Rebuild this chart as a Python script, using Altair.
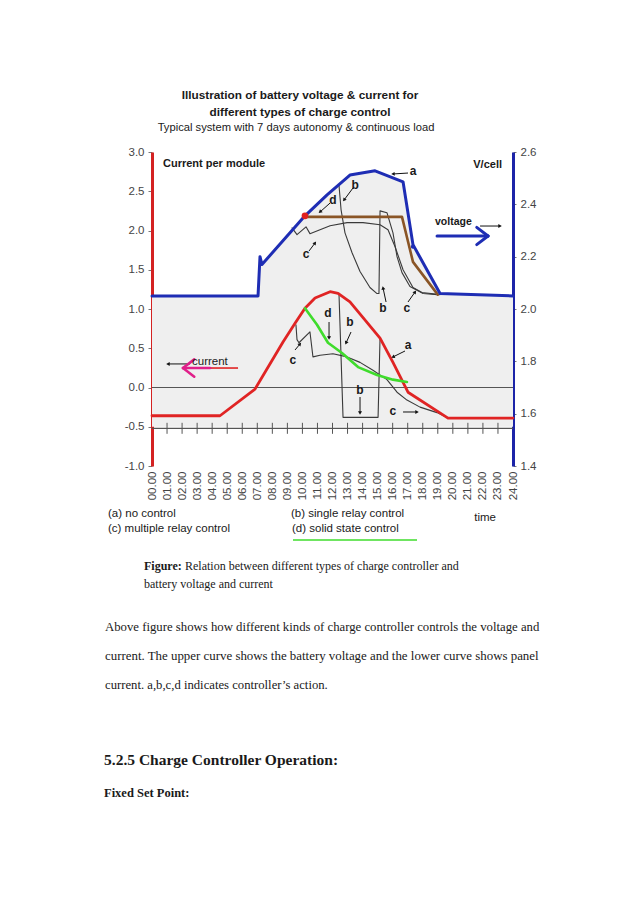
import math
import altair as alt
import pandas as pd

SANS = "Liberation Sans"
SERIF = "Liberation Serif"

# ---------------- data ----------------
hours = list(range(25))
hour_ticks = list(range(1, 24))
i_ticks = [-1.0, -0.5, 0.0, 0.5, 1.0, 1.5, 2.0, 2.5, 3.0]
v_ticks = [1.4, 1.6, 1.8, 2.0, 2.2, 2.4, 2.6]

# battery voltage (V/cell)
va_t = [0, 7.05, 7.18, 7.31, 10.17, 11.64, 13.16, 14.83, 16.69, 17.35, 19.15, 24]
va_v = [2.05, 2.05, 2.20, 2.17, 2.356, 2.436, 2.512, 2.528, 2.486, 2.246, 2.059, 2.05]
vd_t = [10.17, 16.62, 17.35, 19.0]
vd_v = [2.352, 2.352, 2.18, 2.055]
vc_t = [9.31, 9.64, 10.24, 10.5, 11.84, 12.97, 14.03, 15.16, 15.69, 16.16, 16.69, 17.35, 17.95, 19.15]
vc_v = [2.31, 2.284, 2.314, 2.288, 2.318, 2.33, 2.33, 2.322, 2.303, 2.238, 2.15, 2.082, 2.063, 2.055]
vb_t = [12.43, 12.57, 12.83, 13.30, 13.83, 14.49, 14.96, 15.09, 15.16, 15.62, 16.02, 16.29, 16.62, 17.15, 18.02, 18.95]
vb_v = [2.474, 2.379, 2.291, 2.215, 2.143, 2.082, 2.059, 2.059, 2.375, 2.368, 2.291, 2.2, 2.139, 2.086, 2.059, 2.055]
shade_floor_v = 1.55
red_dot = (10.17, 2.356)
blue_dot = (17.35, 2.238)

# current per module (A)
ia_t = [0, 4.52, 6.85, 8.71, 9.51, 10.17, 10.84, 11.84, 12.37, 13.16, 14.03, 15.16, 16.02, 17.02, 19.68, 24]
ia_i = [-0.36, -0.36, -0.02, 0.58, 0.82, 1.01, 1.14, 1.22, 1.20, 1.09, 0.89, 0.63, 0.32, -0.06, -0.39, -0.39]
id_t = [10.17, 10.97, 11.70, 12.63, 13.70, 14.96, 16.02, 16.95]
id_i = [1.01, 0.80, 0.57, 0.44, 0.26, 0.16, 0.10, 0.07]
ic_t = [9.57, 9.64, 9.77, 10.5, 10.7, 11.17, 12.03, 12.97, 13.83, 14.69, 15.62, 16.29, 16.95, 17.82, 18.95, 19.68]
ic_i = [0.80, 0.61, 0.57, 0.71, 0.39, 0.41, 0.43, 0.39, 0.32, 0.22, 0.10, -0.06, -0.16, -0.25, -0.32, -0.39]
ib_t = [12.43, 12.70, 15.03, 15.16]
ib_i = [1.20, -0.38, -0.38, 0.63]
zero_level = 0.0
tick_level = -0.52

# letter annotations (hour, position on current scale)
ann_text = ["a", "b", "d", "c", "b", "c", "d", "b", "a", "b", "c", "c"]
ann_t = [17.35, 13.50, 12.03, 10.24, 15.36, 16.95, 11.70, 13.16, 17.02, 13.83, 16.02, 9.37]
ann_y = [2.758, 2.580, 2.389, 1.701, 1.013, 1.013, 0.949, 0.834, 0.541, -0.032, -0.299, 0.350]
arr_t0 = [17.02, 13.36, 11.84, 10.44, 15.56, 17.02, 11.77, 13.23, 16.82, 13.83, 16.69, 9.51, 2.53, 21.81]
arr_y0 = [2.732, 2.541, 2.350, 1.739, 1.089, 1.089, 0.834, 0.707, 0.465, -0.121, -0.312, 0.478, 0.30, 2.057]
arr_t1 = [16.02, 12.77, 11.17, 10.84, 15.36, 17.49, 11.77, 12.90, 16.02, 13.83, 17.62, 9.84, 1.06, 23.14]
arr_y1 = [2.720, 2.389, 2.236, 1.841, 1.268, 1.217, 0.631, 0.567, 0.389, -0.325, -0.312, 0.554, 0.30, 2.057]

# big direction arrows: blue (voltage ->) and magenta (<- current)
blue_arrow_t = [18.95, 22.34]
blue_arrow_y = [1.93, 1.93]
mag_arrow_t = [3.86, 2.06]
mag_arrow_y = [0.248, 0.248]
red_stub_t = [3.86, 5.72]

# ---------------- layout ----------------
W, H = 361, 314
X0, Y0 = 152, 152  # page position of plot origin
PXH = W / 24.0
PXI = H / 4.0

xscale = alt.Scale(domain=[0, 24], nice=False, zero=False)
iscale = alt.Scale(domain=[-1, 3], nice=False, zero=False)
vscale = alt.Scale(domain=[1.4, 2.6], nice=False, zero=False)

fmt1 = "(datum.value < 0 ? '-' : '') + format(abs(datum.value), '.1f')"
xaxis = alt.Axis(values=hours, labelExpr="(datum.value < 10 ? '0' : '') + datum.value + '.00'",
                 labelAngle=270, labelPadding=5, labelFontSize=11.5, labelColor="#444",
                 labelFont=SANS, domain=False, ticks=False, grid=False, title=None,
                 labelOverlap=False, labelFlush=False, labelBound=False)
iaxis = alt.Axis(values=i_ticks, labelExpr=fmt1, domainColor="#d42222", domainWidth=3,
                 tickColor="#777", tickSize=4, labelPadding=4, labelFontSize=11.5,
                 labelColor="#444", labelFont=SANS, grid=False, title=None, labelOverlap=False)
vaxis = alt.Axis(values=v_ticks, orient="right", labelExpr=fmt1, domainColor="#1c24a8",
                 domainWidth=3, tickColor="#777", tickSize=3, labelPadding=4,
                 labelFontSize=11.5, labelColor="#444", labelFont=SANS, grid=False,
                 title=None, labelOverlap=False)


def X(f):
    return alt.X(f, type="quantitative", scale=xscale, axis=xaxis)


def YI(f):
    return alt.Y(f, type="quantitative", scale=iscale, axis=iaxis)


def YV(f):
    return alt.Y(f, type="quantitative", scale=vscale, axis=vaxis)


def line_df(ts, ys):
    return pd.DataFrame({"t": ts, "y": ys, "k": list(range(len(ts)))})


def curve(ts, ys, color, width, yenc):
    return alt.Chart(line_df(ts, ys)).mark_line(color=color, strokeWidth=width,
                                                strokeJoin="round", strokeCap="round").encode(
        x=X("t"), y=yenc("y"), order="k:Q")


ONE = alt.Data(values=[{"a": 1}])


def txt(s, px, py, size=11, weight="normal", font=SANS, align="left", color="#1a1a1a"):
    return alt.Chart(ONE).mark_text(text=s, fontSize=size, fontWeight=weight, font=font,
                                    align=align, baseline="middle", color=color).encode(
        x=alt.value(px - X0), y=alt.value(py - Y0))


# ---------- voltage layer ----------
shade = pd.DataFrame({"t": va_t, "y": va_v, "floor": [shade_floor_v] * len(va_t)})
v_area = alt.Chart(shade).mark_area(color="#efefef").encode(x=X("t"), y=YV("y"), y2="floor:Q")
v_b = curve(vb_t, vb_v, "#3a3a3a", 1.1, YV)
v_c = curve(vc_t, vc_v, "#3a3a3a", 1.1, YV)
v_d = curve(vd_t, vd_v, "#8a5526", 2.6, YV)
v_a = curve(va_t, va_v, "#1e2db4", 3.0, YV)
dots = pd.DataFrame({"t": [red_dot[0], blue_dot[0]], "y": [red_dot[1], blue_dot[1]],
                     "c": ["#e02020", "#1e2db4"], "s": [45, 18]})
v_dots = alt.Chart(dots).mark_point(filled=True, opacity=1).encode(
    x=X("t"), y=YV("y"), color=alt.Color("c:N", scale=None), size=alt.Size("s:Q", scale=None))
volt_layer = alt.layer(v_area, v_b, v_c, v_d, v_a, v_dots)

# ---------- current layer ----------
zero_df = pd.DataFrame({"t0": [0], "t1": [24], "y": [zero_level]})
zero_rule = alt.Chart(zero_df).mark_rule(color="#555", strokeWidth=1.2).encode(
    x=X("t0"), x2="t1:Q", y=YI("y"))
tl_df = pd.DataFrame({"t0": [0], "t1": [24], "y": [tick_level]})
tick_line = alt.Chart(tl_df).mark_rule(color="#555", strokeWidth=1.2).encode(
    x=X("t0"), x2="t1:Q", y=YI("y"))
tk_df = pd.DataFrame({"t": hour_ticks, "y0": [tick_level + 0.07] * len(hour_ticks),
                      "y1": [tick_level - 0.07] * len(hour_ticks)})
tick_marks = alt.Chart(tk_df).mark_rule(color="#555", strokeWidth=1).encode(
    x=X("t"), y=YI("y0"), y2="y1:Q")

i_b = curve(ib_t, ib_i, "#3a3a3a", 1.1, YI)
i_c = curve(ic_t, ic_i, "#3a3a3a", 1.1, YI)
i_a = curve(ia_t, ia_i, "#e02424", 2.8, YI)
i_d = curve(id_t, id_i, "#3fdc2c", 2.6, YI)

# annotation letters
ann_df = pd.DataFrame({"t": ann_t, "y": ann_y, "s": ann_text})
ann = alt.Chart(ann_df).mark_text(font=SANS, fontSize=12, fontWeight="bold", color="#1a1a1a").encode(
    x=X("t"), y=YI("y"), text="s:N")

arr_df = pd.DataFrame({"t0": arr_t0, "y0": arr_y0, "t1": arr_t1, "y1": arr_y1})
arr_df["ang"] = [
    (math.degrees(math.atan2((b - a) * PXH, (d - c) * PXI)) + 360) % 360
    for a, b, c, d in zip(arr_t0, arr_t1, arr_y0, arr_y1)
]
arr_lines = alt.Chart(arr_df).mark_rule(color="#111", strokeWidth=1).encode(
    x=X("t0"), x2="t1:Q", y=YI("y0"), y2="y1:Q")
arr_heads = alt.Chart(arr_df).mark_point(shape="triangle-up", filled=True, size=16,
                                         color="#111", opacity=1).encode(
    x=X("t1"), y=YI("y1"), angle=alt.Angle("ang:Q", scale=None))


def chevron(ts, ys, color, width):
    # shaft + two arms at end point (ts[1], ys[1])
    dirn = 1 if ts[1] > ts[0] else -1
    back = ts[1] - dirn * 0.75
    seg = pd.DataFrame({
        "t0": [ts[0], back, back],
        "y0": [ys[0], ys[1] + 0.11, ys[1] - 0.11],
        "t1": [ts[1], ts[1], ts[1]],
        "y1": [ys[1], ys[1], ys[1]],
    })
    return alt.Chart(seg).mark_rule(color=color, strokeWidth=width, strokeCap="round").encode(
        x=X("t0"), x2="t1:Q", y=YI("y0"), y2="y1:Q")


blue_arrow = chevron(blue_arrow_t, blue_arrow_y, "#1e2db4", 3)
mag_arrow = chevron(mag_arrow_t, mag_arrow_y, "#e0208a", 2.6)
red_stub = alt.Chart(pd.DataFrame({"t0": [red_stub_t[0]], "t1": [red_stub_t[1]],
                                   "y": [mag_arrow_y[0]]})).mark_rule(
    color="#e02424", strokeWidth=1.6).encode(x=X("t0"), x2="t1:Q", y=YI("y"))

cur_layer = alt.layer(zero_rule, tick_line, tick_marks, i_b, i_c, i_a, i_d,
                      arr_lines, arr_heads, ann, red_stub, mag_arrow, blue_arrow)

# ---------- page texts ----------
texts = [
    txt("Illustration of battery voltage & current for", 300, 95, 11.8, "bold", align="center"),
    txt("different types of charge control", 300, 112, 11.8, "bold", align="center"),
    txt("Typical system with 7 days autonomy & continuous load", 296, 128, 11.2, align="center"),
    txt("Current per module", 163, 164, 11, "bold"),
    txt("V/cell", 502, 165, 11, "bold", align="right"),
    txt("voltage", 435, 222, 10.5, "bold"),
    txt("current", 192, 362, 11.5),
    txt("(a) no control", 108, 514, 11.5),
    txt("(c) multiple relay control", 108, 529, 11.5),
    txt("(b) single relay control", 291, 514, 11.5),
    txt("(d) solid state control", 292, 529, 11.5),
    txt("time", 496, 518, 11.5, align="right"),
    txt("Figure:", 144, 566, 12, "bold", SERIF),
    txt("Relation between different types of charge controller and", 185, 566, 12, font=SERIF),
    txt("battery voltage and current", 144, 584, 12, font=SERIF),
    txt("Above figure shows how different kinds of charge controller controls the voltage and",
        105, 627, 12.75, font=SERIF),
    txt("current. The upper curve shows the battery voltage and the lower curve shows panel",
        105, 656, 12.9, font=SERIF),
    txt("current. a,b,c,d indicates controller\u2019s action.", 105, 685, 12.7, font=SERIF),
    txt("5.2.5 Charge Controller Operation:", 104, 760, 15.5, "bold", SERIF),
    txt("Fixed Set Point:", 104, 793, 12.5, "bold", SERIF),
]
underline = alt.Chart(ONE).mark_rule(color="#3fdc2c", strokeWidth=1.5).encode(
    x=alt.value(293 - X0), x2=alt.value(417 - X0), y=alt.value(540 - Y0))

chart = alt.layer(volt_layer, cur_layer, *texts, underline).resolve_scale(
    y="independent"
).properties(
    width=W, height=H,
    padding={"left": 144, "top": 144, "right": 117, "bottom": 420},
    autosize=alt.AutoSizeParams(type="none"),
    background="white",
).configure_view(stroke=None)

chart.save("out.html", embed_options={"renderer": "svg", "actions": False})
